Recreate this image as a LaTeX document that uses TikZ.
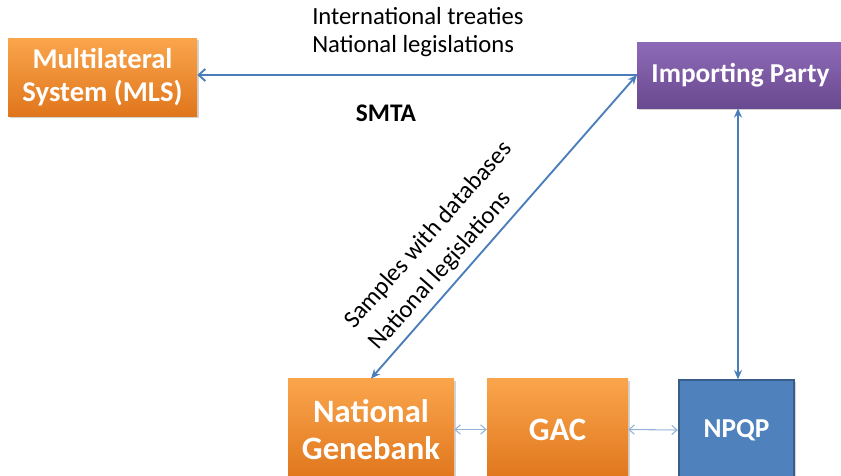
\documentclass[tikz,border=0pt]{standalone}
\usepackage{fontspec}
\setmainfont{Carlito}
\usetikzlibrary{arrows.meta,shadows}
\definecolor{orT}{HTML}{FAA54C}
\definecolor{orB}{HTML}{E0761C}
\definecolor{puT}{HTML}{8E6BB8}
\definecolor{puB}{HTML}{69498F}
\definecolor{npq}{HTML}{4F81BD}
\definecolor{npqB}{HTML}{385D8A}
\definecolor{arr}{HTML}{4A7EBB}
\definecolor{arrL}{HTML}{95B3D7}
\tikzset{
  box/.style={rectangle, inner sep=0pt, align=center, text=white, font=\bfseries,
     drop shadow={opacity=0.35, shadow xshift=1.5pt, shadow yshift=-1.5pt}},
  orbox/.style={box, top color=orT, bottom color=orB},
  pubox/.style={box, top color=puT, bottom color=puB},
  blbox/.style={box, fill=npq, draw=npqB, line width=1.5pt},
  link/.style={draw=arr, line width=1.4pt},
  thin/.style={draw=arrL, line width=0.8pt, {Straight Barb[length=4pt,width=7pt]}-{Straight Barb[length=4pt,width=7pt]}},
  lbl/.style={font=\fontsize{18.5}{21}\selectfont, align=left, inner sep=0pt}
}
\begin{document}
\begin{tikzpicture}[x=0.75pt,y=-0.75pt]
\useasboundingbox (0,0) rectangle (841,475);
\clip (0,0) rectangle (841,475);
\node[orbox, minimum width=141.75pt, minimum height=58.5pt, font=\bfseries\fontsize{21.5}{25}\selectfont] (mls) at (102.5,77) {Multilateral\\System (MLS)};
\node[pubox, minimum width=155pt, minimum height=49.5pt, font=\bfseries\fontsize{20.5}{24}\selectfont] (ip) at (740.5,75) {Importing Party};
\node[orbox, minimum width=124.5pt, minimum height=76pt, font=\bfseries\fontsize{24.5}{28}\selectfont] (gb) at (371,429.5) {National\\Genebank};
\node[orbox, minimum width=105.75pt, minimum height=76pt, font=\bfseries\fontsize{24.5}{28}\selectfont] (gac) at (557.5,429.5) {GAC};
\node[blbox, minimum width=86.5pt, minimum height=74.5pt, font=\bfseries\fontsize{20.5}{24}\selectfont] (np) at (736.5,430) {NPQP};

\draw[link, -{Straight Barb[length=5pt,width=9pt]}] (ip.west) -- (ip.west -| mls.east);
\draw[link, {Stealth[length=7pt,width=6pt]}-{Stealth[length=7pt,width=6pt]}] (gb.north) -- (ip.west);
\draw[link, {Stealth[length=7pt,width=6pt]}-{Stealth[length=7pt,width=6pt]}] (ip.south -| 738,0) -- (np.north -| 738,0);
\draw[thin] (gb.east) -- (gac.west);
\draw[thin] (gac.east) -- (np.west);

\node[lbl, anchor=west] (t1) at (312,32) {International treaties\\National legislations};
\node[lbl, font=\bfseries\fontsize{19}{21}\selectfont] (smta) at (386,113) {SMTA};
\node[lbl, rotate=48.6, align=left, font=\fontsize{18.5}{24.5}\selectfont] (t2) at (441,246) {Samples with databases\\National legislations};
\end{tikzpicture}
\end{document}
